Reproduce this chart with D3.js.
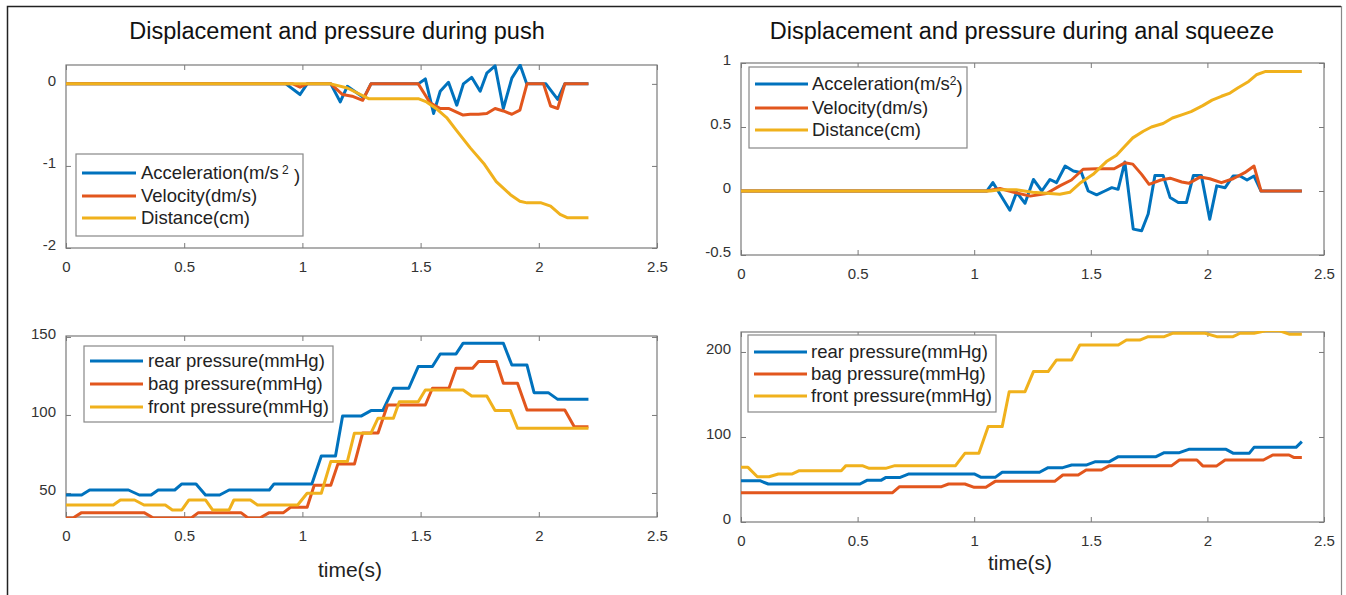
<!DOCTYPE html>
<html>
<head>
<meta charset="utf-8">
<script src="https://cdn.jsdelivr.net/npm/d3@7"></script>
<style>
  html, body { margin: 0; padding: 0; background: #fff; }
  svg { display: block; font-family: "Liberation Sans", Arial, Helvetica, sans-serif; }
</style>
</head>
<body>
<script>
// ---------------- DATA (time in s, value) ----------------
const xTicks = [0, 0.5, 1, 1.5, 2, 2.5];

const pushYTicks = [-2, -1, 0];
const pushAcc = [[0,0],[0.93,0],[0.99,-0.13],[1.02,0],[1.12,0],[1.16,-0.22],[1.19,-0.03],[1.26,-0.17],[1.29,0],[1.49,0],[1.52,0.06],[1.555,-0.36],[1.583,-0.09],[1.618,0.02],[1.653,-0.26],[1.681,0],[1.716,0.08],[1.752,-0.09],[1.78,0.13],[1.815,0.22],[1.85,-0.30],[1.886,0.07],[1.921,0.23],[1.949,0],[2.03,0],[2.08,-0.19],[2.11,0],[2.21,0]];
const pushVel = [[0,0],[0.96,0],[0.99,-0.04],[1.02,0],[1.12,0],[1.17,-0.13],[1.21,-0.15],[1.255,-0.2],[1.29,0],[1.49,0],[1.54,-0.23],[1.583,-0.30],[1.618,-0.30],[1.65,-0.34],[1.68,-0.38],[1.71,-0.37],[1.745,-0.37],[1.78,-0.36],[1.815,-0.30],[1.85,-0.33],[1.886,-0.37],[1.92,-0.32],[1.95,0],[2.02,0],[2.05,-0.27],[2.08,-0.30],[2.11,0],[2.21,0]];
const pushDist = [[0,0],[1.12,0],[1.19,-0.05],[1.28,-0.18],[1.49,-0.18],[1.525,-0.22],[1.57,-0.31],[1.61,-0.41],[1.65,-0.56],[1.71,-0.78],[1.77,-0.98],[1.82,-1.19],[1.88,-1.35],[1.92,-1.43],[1.95,-1.45],[2.01,-1.45],[2.05,-1.49],[2.09,-1.59],[2.12,-1.63],[2.21,-1.63]];

const squeezeYTicks = [-0.5, 0, 0.5, 1];
const squeezeAcc = [[0,0],[1.054,0],[1.08,0.066],[1.153,-0.15],[1.182,-0.01],[1.218,-0.096],[1.254,0.09],[1.29,0],[1.325,0.09],[1.353,0.065],[1.39,0.195],[1.425,0.156],[1.46,0.143],[1.489,0],[1.525,-0.03],[1.56,0],[1.59,0.026],[1.617,0.013],[1.646,0.226],[1.682,-0.298],[1.718,-0.31],[1.746,-0.18],[1.775,0.122],[1.81,0.122],[1.84,-0.05],[1.875,-0.09],[1.91,-0.09],[1.94,0.122],[1.974,0.122],[2.01,-0.22],[2.04,0.04],[2.076,0.026],[2.11,0.117],[2.14,0.117],[2.17,0.086],[2.2,0.117],[2.23,0],[2.405,0]];
const squeezeVel = [[0,0],[1.054,0],[1.11,0.02],[1.17,-0.01],[1.24,-0.04],[1.31,-0.02],[1.367,0.04],[1.417,0.086],[1.467,0.17],[1.525,0.174],[1.6,0.174],[1.646,0.22],[1.68,0.21],[1.718,0.13],[1.75,0.052],[1.8,0.086],[1.84,0.10],[1.89,0.07],[1.92,0.06],[1.97,0.11],[2.01,0.096],[2.06,0.065],[2.11,0.096],[2.16,0.143],[2.2,0.195],[2.23,0],[2.405,0]];
const squeezeDist = [[0,0],[1.07,0],[1.11,0.01],[1.18,0.01],[1.25,-0.01],[1.325,-0.02],[1.367,-0.026],[1.41,-0.01],[1.453,0.06],[1.51,0.13],[1.567,0.23],[1.61,0.28],[1.646,0.35],[1.68,0.415],[1.725,0.467],[1.76,0.5],[1.81,0.527],[1.85,0.57],[1.893,0.597],[1.93,0.62],[1.98,0.667],[2.02,0.71],[2.06,0.74],[2.097,0.765],[2.13,0.804],[2.177,0.856],[2.21,0.908],[2.25,0.934],[2.405,0.934]];

const pushPYTicks = [50, 100, 150];
const pushRear = [[0,48.7],[0.066,48.7],[0.10,51.9],[0.264,51.9],[0.31,48.7],[0.36,48.7],[0.39,51.9],[0.46,51.9],[0.49,55.8],[0.55,55.8],[0.59,48.7],[0.65,48.7],[0.69,51.9],[0.86,51.9],[0.88,55.8],[1.04,55.8],[1.08,73.7],[1.14,73.7],[1.17,99.4],[1.25,99.4],[1.29,102.8],[1.34,102.8],[1.385,117.1],[1.45,117.1],[1.49,131],[1.55,131],[1.583,139.1],[1.65,139.1],[1.68,146],[1.85,146],[1.886,132],[1.95,132],[1.98,114.3],[2.04,114.3],[2.08,110],[2.21,110]];
const pushBag = [[0,34],[0.03,34],[0.066,37.4],[0.33,37.4],[0.37,34],[0.53,34],[0.56,37.4],[0.74,37.4],[0.77,34],[0.82,34],[0.86,37.4],[0.92,37.4],[0.95,40.8],[1.02,40.8],[1.05,55],[1.12,55],[1.15,68.5],[1.22,68.5],[1.255,88.5],[1.32,88.5],[1.36,106.4],[1.52,106.4],[1.55,117.1],[1.62,117.1],[1.65,129.9],[1.72,129.9],[1.745,134.2],[1.82,134.2],[1.85,120.3],[1.91,120.3],[1.95,103.2],[2.11,103.2],[2.15,92.5],[2.21,92.5]];
const pushFront = [[0,42.3],[0.2,42.3],[0.23,45.5],[0.29,45.5],[0.33,42.3],[0.42,42.3],[0.45,39.1],[0.49,39.1],[0.52,45.5],[0.59,45.5],[0.62,39.1],[0.69,39.1],[0.71,45.5],[0.78,45.5],[0.81,42.3],[0.98,42.3],[1.02,49.8],[1.08,49.8],[1.12,70.1],[1.19,70.1],[1.22,88.3],[1.29,88.3],[1.32,97.9],[1.385,97.9],[1.41,108.5],[1.49,108.5],[1.52,116],[1.68,116],[1.716,112.2],[1.78,112.2],[1.815,102.8],[1.88,102.8],[1.91,91.5],[2.21,91.5]];

const squeezePYTicks = [0, 100, 200];
const squeezeRear = [[0,48.6],[0.081,48.6],[0.117,44.7],[0.51,44.7],[0.54,49],[0.6,49],[0.62,52.2],[0.68,52.2],[0.72,56.5],[1.0,56.5],[1.03,52.5],[1.09,52.5],[1.12,58.5],[1.28,58.5],[1.317,63.9],[1.38,63.9],[1.418,67],[1.48,67],[1.52,71],[1.58,71],[1.618,76.9],[1.78,76.9],[1.815,81.6],[1.88,81.6],[1.92,85.5],[2.08,85.5],[2.11,81],[2.18,81],[2.2,87.8],[2.38,87.8],[2.405,94.5]];
const squeezeBag = [[0,34.5],[0.65,34.5],[0.68,41.6],[0.86,41.6],[0.89,44.7],[0.96,44.7],[1.0,40.8],[1.05,40.8],[1.09,47.8],[1.345,47.8],[1.38,55.3],[1.446,55.3],[1.48,61.2],[1.546,61.2],[1.58,66.3],[1.847,66.3],[1.88,72.9],[1.955,72.9],[1.98,66],[2.04,66],[2.076,72.9],[2.24,72.9],[2.28,78.8],[2.35,78.8],[2.37,76],[2.405,76]];
const squeezeFront = [[0,64.3],[0.03,64.3],[0.07,53.3],[0.12,53.3],[0.16,56.5],[0.22,56.5],[0.25,60.4],[0.43,60.4],[0.45,66.3],[0.52,66.3],[0.55,63.1],[0.62,63.1],[0.66,66.3],[0.92,66.3],[0.96,80.8],[1.02,80.8],[1.06,112.2],[1.12,112.2],[1.15,153.3],[1.218,153.3],[1.254,176.9],[1.317,176.9],[1.353,190.6],[1.418,190.6],[1.453,208.2],[1.618,208.2],[1.653,214],[1.71,214],[1.746,218],[1.815,218],[1.85,222],[1.99,222],[2.04,218],[2.11,218],[2.14,222],[2.2,222],[2.25,225],[2.31,225],[2.35,221],[2.405,221]];

const motionLabels = ["Acceleration(m/s", "Velocity(dm/s)", "Distance(cm)"];
const pressureLabels = ["rear pressure(mmHg)", "bag pressure(mmHg)", "front pressure(mmHg)"];
const titles = ["Displacement and pressure during push", "Displacement and pressure during anal squeeze"];
const xLabel = "time(s)";

// ---------------- STYLE / LAYOUT ----------------
const colors = ["#0072BD", "#E2561D", "#F0B11C"];
const W = 1346, H = 595;

const svg = d3.select("body").append("svg").attr("width", W).attr("height", H);
svg.append("rect").attr("width", W).attr("height", H).attr("fill", "#fff");
// outer frame
svg.append("path").attr("d", "M7.5,600V6.5H1341").attr("fill", "none").attr("stroke", "#222").attr("stroke-width", 1.5);
svg.append("path").attr("d", "M1341.5,6V600").attr("fill", "none").attr("stroke", "#888").attr("stroke-width", 1.2);

let clipId = 0;
function panel(cfg) {
  const x = d3.scaleLinear().domain([0, 2.5]).range([cfg.L, cfg.R]);
  const y = d3.scaleLinear().domain(cfg.yDom).range([cfg.B, cfg.T]);
  const g = svg.append("g");
  const fmt = d => String(d);
  const styleAxis = sel => {
    sel.select(".domain").remove();
    sel.selectAll(".tick line").attr("stroke", "#7a7a7a").attr("stroke-width", 1);
    sel.selectAll(".tick text").attr("fill", "#333").style("font-size", "15px")
      .style("font-family", '"Liberation Sans", Arial, sans-serif');
  };
  g.append("g").attr("transform", `translate(0,${cfg.B})`)
    .call(d3.axisBottom(x).tickValues(xTicks).tickSize(-5).tickPadding(13).tickFormat(fmt)).call(styleAxis);
  g.append("g").attr("transform", `translate(0,${cfg.T})`)
    .call(d3.axisTop(x).tickValues(xTicks).tickSize(-5).tickFormat("")).call(styleAxis);
  const ya = g.append("g").attr("transform", `translate(${cfg.L},0)`)
    .call(d3.axisLeft(y).tickValues(cfg.yTicks).tickSize(-5).tickPadding(10).tickFormat(fmt)).call(styleAxis);
  ya.selectAll(".tick text").attr("y", -3);
  g.append("g").attr("transform", `translate(${cfg.R},0)`)
    .call(d3.axisRight(y).tickValues(cfg.yTicks).tickSize(-5).tickFormat("")).call(styleAxis);
  g.append("rect").attr("x", cfg.L).attr("y", cfg.T).attr("width", cfg.R - cfg.L).attr("height", cfg.B - cfg.T)
    .attr("fill", "none").attr("stroke", "#7a7a7a").attr("stroke-width", 1.2);

  const id = "clip" + (clipId++);
  svg.append("clipPath").attr("id", id).append("rect")
    .attr("x", cfg.L).attr("y", cfg.T - 1).attr("width", cfg.R - cfg.L).attr("height", cfg.B - cfg.T + 2);
  const line = d3.line().x(d => x(d[0])).y(d => y(d[1]));
  const lg = g.append("g").attr("clip-path", `url(#${id})`);
  cfg.series.forEach((s, i) => {
    lg.append("path").attr("d", line(s)).attr("fill", "none").attr("stroke", colors[i])
      .attr("stroke-width", 3).attr("stroke-linejoin", "round");
  });

  // legend
  const lgd = cfg.legend;
  g.append("rect").attr("x", lgd.x0).attr("y", lgd.y0).attr("width", lgd.x1 - lgd.x0).attr("height", lgd.y1 - lgd.y0)
    .attr("fill", "#fff").attr("stroke", "#888").attr("stroke-width", 1.2);
  cfg.labels.forEach((lab, i) => {
    const yy = lgd.rows[i];
    g.append("line").attr("x1", lgd.lx0).attr("x2", lgd.lx1).attr("y1", yy).attr("y2", yy)
      .attr("stroke", colors[i]).attr("stroke-width", 3);
    const t = g.append("text").attr("x", lgd.tx).attr("y", yy).attr("dy", "0.35em")
      .attr("fill", "#222").style("font-size", "18.5px").text(lab);
    if (cfg.superscript && i === 0) {
      t.append("tspan").attr("dy", "-0.45em").style("font-size", "12px").text(cfg.superscript);
      t.append("tspan").attr("dy", "0.45em").text(cfg.superscript.startsWith(" ") ? " )" : ")");
    }
  });
  return { x, y };
}

panel({ L: 66, R: 657, T: 65, B: 248, yDom: [-2, 0.23], yTicks: pushYTicks,
  series: [pushAcc, pushVel, pushDist], labels: motionLabels, superscript: " 2",
  legend: { x0: 76, x1: 303, y0: 154, y1: 236, lx0: 82, lx1: 136, tx: 141, rows: [173, 196, 218] } });
panel({ L: 741, R: 1324, T: 63, B: 255, yDom: [-0.5, 1], yTicks: squeezeYTicks,
  series: [squeezeAcc, squeezeVel, squeezeDist], labels: motionLabels, superscript: "2",
  legend: { x0: 749, x1: 967, y0: 67, y1: 148, lx0: 755, lx1: 808, tx: 812, rows: [84, 108, 130] } });
panel({ L: 66, R: 657, T: 336, B: 517, yDom: [34.6, 150.6], yTicks: pushPYTicks,
  series: [pushRear, pushBag, pushFront], labels: pressureLabels,
  legend: { x0: 84, x1: 333, y0: 346, y1: 422, lx0: 90, lx1: 143, tx: 148, rows: [361, 384, 407] } });
panel({ L: 741, R: 1324, T: 332, B: 522, yDom: [0, 223.5], yTicks: squeezePYTicks,
  series: [squeezeRear, squeezeBag, squeezeFront], labels: pressureLabels,
  legend: { x0: 748, x1: 996, y0: 335, y1: 412, lx0: 754, lx1: 807, tx: 811, rows: [352, 374, 396] } });

// titles and x labels
svg.append("text").attr("x", 337).attr("y", 39).attr("text-anchor", "middle").attr("fill", "#111")
  .style("font-size", "23.5px").text(titles[0]);
svg.append("text").attr("x", 1022).attr("y", 39).attr("text-anchor", "middle").attr("fill", "#111")
  .style("font-size", "23.5px").text(titles[1]);
svg.append("text").attr("x", 350).attr("y", 577).attr("text-anchor", "middle").attr("fill", "#222")
  .style("font-size", "21px").text(xLabel);
svg.append("text").attr("x", 1020).attr("y", 570).attr("text-anchor", "middle").attr("fill", "#222")
  .style("font-size", "21px").text(xLabel);
</script>
</body>
</html>
